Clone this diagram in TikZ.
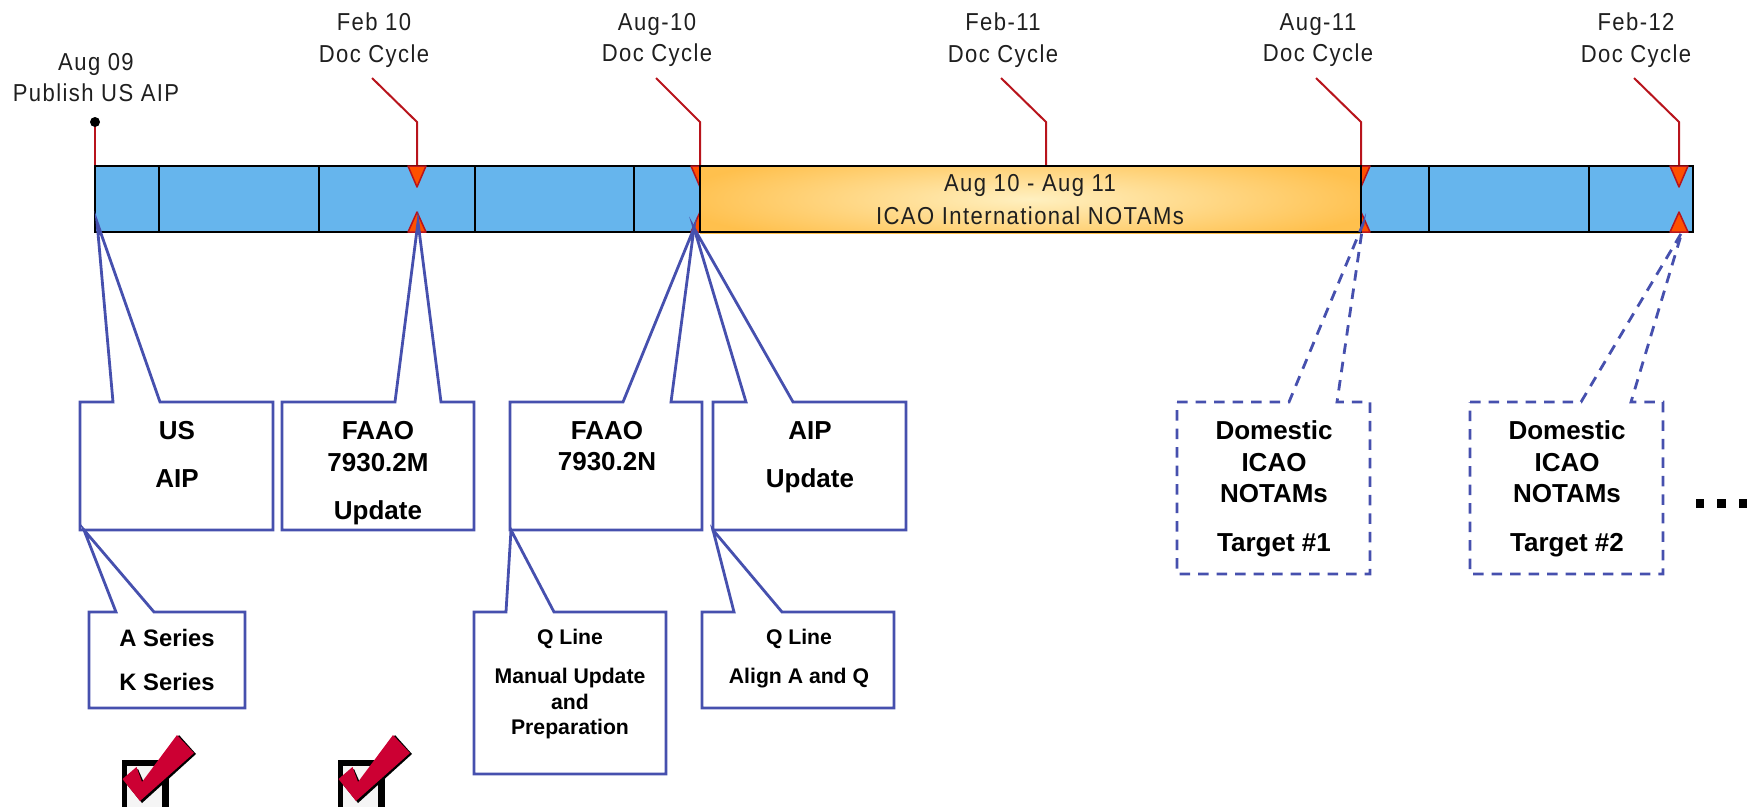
\documentclass[tikz,border=0pt]{standalone}
\usepackage{fontspec}
\setmainfont{Liberation Sans}
\newfontfamily\toplabel[FakeStretch=0.9,LetterSpace=5.8]{Liberation Sans}
\tikzset{
  bartext/.style={font=\toplabel\fontsize{24.5}{31.5}\selectfont,align=center,inner sep=0,text=black!88},
  lab/.style={font=\fontsize{26}{31.5}\selectfont\bfseries,align=center,inner sep=0},
  lab2/.style={font=\fontsize{21.2}{25.5}\selectfont\bfseries,align=center,inner sep=0},
  callout/.style={draw=calloutblue,line width=2.8pt,line join=miter},
  dashcall/.style={callout,dash pattern=on 10.5pt off 8pt},
  redline/.style={draw=linered,line width=2pt},
  tri/.style={fill=triorange,draw=linered,line width=1.5pt,line join=round},
}
\definecolor{barblue}{HTML}{66B5ED}
\definecolor{linered}{HTML}{B8141C}
\definecolor{triorange}{HTML}{FF5000}
\definecolor{calloutblue}{HTML}{4650AE}
\definecolor{goldA}{HTML}{FFC04D}
\definecolor{goldB}{HTML}{FFF0C0}
\definecolor{checkred}{HTML}{CC0033}
\newcommand{\callbox}[8]{% style, x0,y0,x1,y1, a, tip, b
  \draw[#1] (#2,#3) -- (#6,#3) -- #7 -- (#8,#3) -- (#4,#3) -- (#4,#5) -- (#2,#5) -- cycle;}
\newcommand{\downtri}[1]{\draw[tri] (#1-9,166) -- (#1+9,166) -- (#1,187) -- cycle;}
\newcommand{\uptri}[1]{\draw[tri] (#1-9,232) -- (#1+9,232) -- (#1,212) -- cycle;}
\newcommand{\tickbox}[1]{%
  \begin{scope}[shift={(#1,0)}]
    \fill[black] (121.5,760) rectangle (169,807);
    \fill[white!96!black] (127,765.5) rectangle (162,807);
    \fill[black] (124,781) -- (138,769) -- (145,785) -- (179,735) -- (196,754) -- (142,803) -- cycle;
    \fill[checkred] (122.5,779) -- (136.5,767) -- (142,782) -- (177,735) -- (194,753) -- (140,801) -- cycle;
  \end{scope}}
\begin{document}
\begin{tikzpicture}[x=1pt,y=-1pt]
\useasboundingbox (0,0) rectangle (1752,807);
% red leaders
\draw[redline] (95,122) -- (95,166);
\fill[black] (95,122) circle (5);
\draw[redline] (372,78) -- (417,122) -- (417,166);
\draw[redline] (656,78) -- (700,122) -- (700,166);
\draw[redline] (1001,78) -- (1046,122) -- (1046,166);
\draw[redline] (1316,78) -- (1361,122) -- (1361,166);
\draw[redline] (1634,78) -- (1679,122) -- (1679,166);
% bar
\fill[barblue] (95,166) rectangle (1693,232);
\draw[black!35,line width=1pt] (95,165) -- (1693,165);
\foreach \x in {159,319,475,634,1429,1589}
  \draw[black,line width=1.8pt] (\x,166) -- (\x,232);
\draw[black,line width=2pt] (95,232) -- (95,166) -- (1693,166) -- (1693,232) -- cycle;
% triangles
\downtri{417}\uptri{417}
\downtri{700}\uptri{700}
\downtri{1046}
\downtri{1361}\uptri{1361}
\downtri{1679}\uptri{1679}
% orange band
\fill[goldA] (700,166) rectangle (1361,234);
\begin{scope}
  \clip (700,166) rectangle (1361,232);
  \shade[inner color=goldB,outer color=goldA] (1030,199) ellipse [x radius=355,y radius=52];
\end{scope}
\draw[black,line width=2pt] (700,166) rectangle (1361,232);
\node[bartext,font=\toplabel\fontsize{24.5}{33}\selectfont] (band) at (1030,199.5) {Aug 10 - Aug 11\\ICAO International NOTAMs};
% top labels
\node[bartext] (l1) at (96,77.5) {Aug 09\\Publish US AIP};
\node[bartext] (l2) at (374,40) {Feb 10\\Doc Cycle};
\node[bartext] (l3) at (657,40) {Aug-10\\Doc Cycle};
\node[bartext] (l4) at (1003,40) {Feb-11\\Doc Cycle};
\node[bartext] (l5) at (1318,40) {Aug-11\\Doc Cycle};
\node[bartext] (l6) at (1636,40) {Feb-12\\Doc Cycle};
% callouts
\callbox{callout}{80}{402}{273}{530}{113}{(97,222)}{160}
\callbox{callout}{282}{402}{474}{530}{395}{(418,222)}{441}
\callbox{callout}{510}{402}{702}{530}{623}{(694,228)}{671}
\callbox{callout}{713}{402}{906}{530}{746}{(694,228)}{793}
\callbox{dashcall}{1177}{402}{1370}{574}{1289}{(1363,224)}{1337}
\callbox{dashcall}{1470}{402}{1663}{574}{1581}{(1682,232)}{1631}
\callbox{callout}{89}{612}{245}{708}{116}{(84,530)}{154}
\callbox{callout}{474}{612}{666}{774}{506}{(511,530)}{554}
\callbox{callout}{702}{612}{894}{708}{734}{(713,530)}{782}
% callout text
\node[lab,font=\fontsize{26}{48}\selectfont\bfseries] (c1) at (177,454.5) {US\\AIP};
\node[lab] (c2) at (378,473) {FAAO\\7930.2M\\[16.5pt]Update};
\node[lab] (c3) at (607,446) {FAAO\\7930.2N};
\node[lab,font=\fontsize{26}{48}\selectfont\bfseries] (c4) at (810,457) {AIP\\Update};
\node[lab] (c5) at (1274,489) {Domestic\\ICAO\\NOTAMs\\[17.5pt]Target \#1};
\node[lab] (c6) at (1567,489) {Domestic\\ICAO\\NOTAMs\\[17.5pt]Target \#2};
\node[lab,font=\fontsize{23.8}{43.5}\selectfont\bfseries] (c7) at (167,660) {A Series\\K Series};
\node[lab2] (c8) at (570,638.5) {Q Line};
\node[lab2] (c9) at (570,704) {Manual Update\\and\\Preparation};
\node[lab2] (c10) at (799,638.5) {Q Line};
\node[lab2] (c11) at (799,678.5) {Align A and Q};
% ellipsis
\foreach \x in {1700,1721.5,1743}
  \fill[black] (\x-4.2,499) rectangle (\x+4.2,507.5);
% check marks
\tickbox{0}
\tickbox{216}
\end{tikzpicture}
\end{document}
